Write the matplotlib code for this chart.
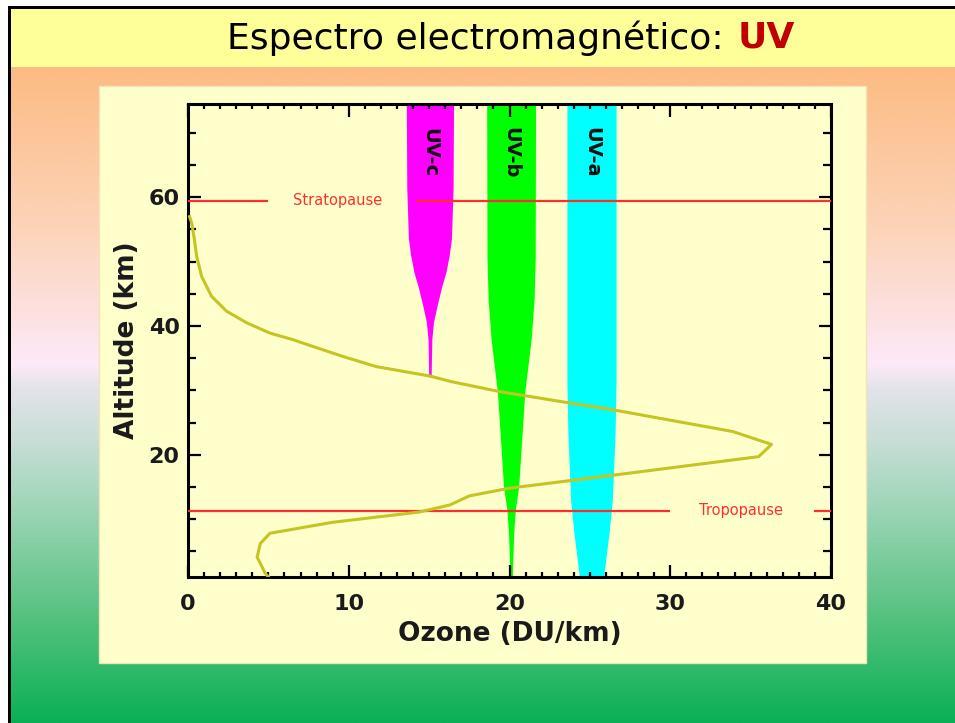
import matplotlib.pyplot as plt
import numpy as np
from matplotlib.patches import Rectangle
from matplotlib.ticker import MultipleLocator

plt.switch_backend("Agg")

# ozone profile (altitude km, ozone DU/km)
profile_alt = [1.0, 1.6, 4.1, 6.2, 7.8, 9.5, 11.1, 12.2, 13.6, 14.8, 16.9, 19.7,
               21.6, 23.6, 27.0, 28.1, 29.8, 31.4, 32.2, 33.7, 35.3, 36.8, 37.9,
               38.9, 40.5, 42.3, 44.6, 47.7, 50.8, 53.4, 56.0, 57.0]
profile_ozone = [5.0, 4.8, 4.3, 4.5, 5.1, 9.0, 14.4, 16.3, 17.5, 20.0, 26.7, 35.5,
                 36.3, 33.9, 26.4, 23.6, 19.4, 16.3, 15.1, 11.7, 9.6, 7.8, 6.5,
                 5.1, 3.65, 2.4, 1.47, 0.85, 0.54, 0.4, 0.23, 0.1]

# UV penetration bands: centre and half width against altitude
uvc_center = 15.05
uvc_alt = [74.5, 61.4, 53.6, 51.0, 48.4, 46.0, 43.1, 40.6, 38.0, 32.2, 32.0]
uvc_half = [1.47, 1.44, 1.34, 1.2, 1.0, 0.72, 0.44, 0.22, 0.12, 0.075, 0.0]

uvb_center = 20.1
uvb_alt = [74.5, 50.5, 44.2, 38.0, 29.7, 15.0, 11.4, 7.8, 2.5, 1.0]
uvb_half = [1.52, 1.5, 1.43, 1.25, 0.85, 0.47, 0.26, 0.16, 0.09, 0.08]

uva_center = 25.1
uva_alt = [74.5, 31.7, 23.4, 13.0, 7.8, 2.5, 1.0]
uva_half = [1.53, 1.53, 1.47, 1.3, 1.09, 0.83, 0.75]

band_labels = ["UV-c", "UV-b", "UV-a"]
band_colors = ["#ff00ff", "#00ff00", "#00ffff"]

stratopause = 59.5
tropopause = 11.3

# slide background gradient stops (pixel row, rgb)
grad_rows = [67, 229, 364, 390, 440, 504, 610, 723]
grad_colors = [(252, 187, 130), (252, 212, 185), (253, 233, 248), (226, 227, 233),
               (200, 222, 214), (160, 214, 185), (90, 195, 130), (10, 176, 85)]

W, H = 955, 723
fig = plt.figure(figsize=(W / 100, H / 100), dpi=100)

# slide background
bg = fig.add_axes([0, 0, 1, 1])
bg.set_xlim(0, W)
bg.set_ylim(H, 0)
bg.axis("off")
rows = np.arange(67, H + 1)
cols = np.array(grad_colors) / 255.0
grad = np.stack([np.interp(rows, grad_rows, cols[:, i]) for i in range(3)], axis=-1)
bg.imshow(grad[:, None, :], extent=(11, W, H, 67), aspect="auto", interpolation="bilinear")
bg.add_patch(Rectangle((11, 9), W - 11, 58, facecolor="#ffff99", edgecolor="none"))
bg.add_patch(Rectangle((8, 6), 3, H, facecolor="black", edgecolor="none"))
bg.add_patch(Rectangle((8, 6), W, 3, facecolor="black", edgecolor="none"))
bg.add_patch(Rectangle((99, 86), 767, 577, facecolor="#ffffcc", edgecolor="#f3e3b8", lw=1))

fig.text(0.770, 1 - 38 / H, "Espectro electromagnético: ", ha="right", va="center",
         fontsize=26, color="black")
fig.text(0.772, 1 - 38 / H, "UV", ha="left", va="center", fontsize=26,
         color="#c00000", fontweight="bold")

# chart
ax = fig.add_axes([188 / W, 1 - 577 / H, (831 - 188) / W, (577 - 104) / H])
ax.patch.set_alpha(0)
ax.set_xlim(0, 40)
ax.set_ylim(1.0, 74.5)

for center, alt, half, color in [(uvc_center, uvc_alt, uvc_half, band_colors[0]),
                                 (uvb_center, uvb_alt, uvb_half, band_colors[1]),
                                 (uva_center, uva_alt, uva_half, band_colors[2])]:
    alt = np.array(alt)
    half = np.array(half)
    ax.fill_betweenx(alt, center - half, center + half, color=color, lw=0, zorder=1)

for center, label in zip([uvc_center, uvb_center, uva_center], band_labels):
    ax.text(center, 67.0, label, rotation=-90, ha="center", va="center",
            fontsize=14, fontweight="bold", color="#111111", zorder=3)

red = "#ff2e2e"
ax.plot([0, 4.9], [stratopause] * 2, color=red, lw=1.6, zorder=4)
ax.plot([14.25, 40], [stratopause] * 2, color=red, lw=1.6, zorder=4)
ax.text(9.3, stratopause, "Stratopause", color=red, fontsize=10.5, ha="center",
        va="center", zorder=4)
ax.plot([0, 29.9], [tropopause] * 2, color=red, lw=1.6, zorder=4)
ax.plot([39.0, 40], [tropopause] * 2, color=red, lw=1.6, zorder=4)
ax.text(34.4, tropopause, "Tropopause", color=red, fontsize=10.5, ha="center",
        va="center", zorder=4)

ax.plot(profile_ozone, profile_alt, color="#c4c422", lw=2.2, zorder=5)

ax.set_xticks([0, 10, 20, 30, 40])
ax.set_yticks([20, 40, 60])
ax.xaxis.set_minor_locator(MultipleLocator(1))
ax.yaxis.set_minor_locator(MultipleLocator(5))
ax.tick_params(which="both", direction="in", top=True, right=True, width=1.6)
ax.tick_params(axis="y", which="major", length=9, pad=6)
ax.tick_params(axis="y", which="minor", length=6)
ax.tick_params(axis="x", which="major", length=9, pad=12)
ax.tick_params(axis="x", which="minor", length=3.5)
plt.setp(ax.get_xticklabels() + ax.get_yticklabels(), fontsize=16, fontweight="bold",
         color="#1a1a1a")
for sp in ax.spines.values():
    sp.set_linewidth(2.2)

ax.set_xlabel("Ozone (DU/km)", fontsize=19, fontweight="bold", color="#1a1a1a", labelpad=5)
ax.set_ylabel("Altitude (km)", fontsize=19, fontweight="bold", color="#1a1a1a", labelpad=6)

fig.savefig("out.png", dpi=100)
